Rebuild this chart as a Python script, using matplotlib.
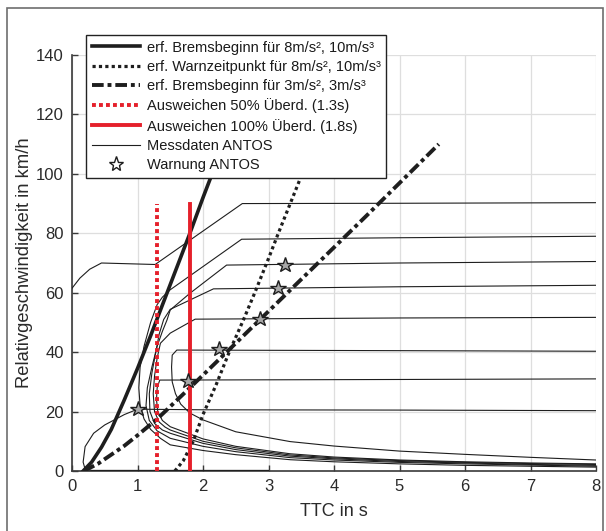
import matplotlib
matplotlib.use("Agg")
import matplotlib.pyplot as plt
from matplotlib.lines import Line2D
from matplotlib.patches import Rectangle

plt.rcParams['font.family'] = ['Liberation Sans', 'DejaVu Sans']

# theoretical curves (TTC [s], v [km/h])
brems8_x = [0.17, 0.3, 0.45, 0.6, 0.8, 1.0, 1.2, 1.4, 1.6, 1.8, 2.0, 2.2]
brems8_y = [0, 3, 8, 14, 24, 34.5, 45.5, 57, 68.5, 80, 92, 103.5]
warn8_x = [1.57, 1.7, 1.85, 2.0, 2.2, 2.4, 2.62, 2.8, 3.0, 3.15, 3.35, 3.55, 3.63]
warn8_y = [0, 3.5, 10, 19, 29, 40, 51, 60.5, 71.5, 80, 91, 102, 105]
brems3_x = [0.18, 0.4, 0.6, 0.8, 1.0, 1.3, 1.8, 2.5, 3.5, 4.5, 5.6]
brems3_y = [0, 2.5, 5.5, 8.5, 12, 17.5, 28, 43, 64.5, 86, 110]
ausw50_x = 1.3
ausw100_x = 1.8
ausw_top = 90

tail_x = [1.5, 2, 2.5, 3.33, 4, 5, 6, 7, 8]

# measured runs (ANTOS)
run90_x = [8, 5, 2.6, 1.27, 1.1, 0.45, 0.27, 0.12, 0]
run90_y = [90.3, 90.1, 90, 69.5, 69.6, 70, 67.9, 64.9, 61.5]

run78_x = [8, 5, 2.59, 1.5, 1.38, 1.3, 1.2, 1.1, 1.04, 1.02, 1.04, 1.1, 1.2, 1.35] + tail_x
run78_y = [79, 78.5, 78, 61, 58.5, 56, 50, 42, 35, 28, 22, 17.5, 14, 11] + [8.8, 6.9, 5.5, 3.8, 3.1, 2.4, 1.9, 1.6, 1.3]

run70_x = [8, 5, 2.36, 1.8, 1.5, 1.45, 1.38, 1.3, 1.22, 1.15, 1.13, 1.18, 1.3] + tail_x
run70_y = [70.5, 70, 69.3, 59.8, 54.2, 50.8, 47, 42, 35, 28, 22, 17, 13.5] + [11.0, 8.3, 6.5, 4.5, 3.7, 2.9, 2.4, 2.0, 1.6]

run62_x = [8, 5, 2.16, 1.5, 1.4, 1.33, 1.28, 1.22, 1.18, 1.19, 1.26, 1.38] + tail_x
run62_y = [62.5, 62, 61.3, 54.4, 51, 46, 40, 33, 26, 20, 16, 13.8] + [12.7, 9.3, 7.2, 5.0, 4.1, 3.2, 2.7, 2.2, 1.9]

run52_x = [8, 5, 1.88, 1.5, 1.35, 1.3, 1.26, 1.24, 1.26, 1.33, 1.42] + tail_x
run52_y = [51.7, 51.5, 51.1, 46.4, 43, 38, 32, 26, 20, 16.5, 14.8] + [13.8, 10.0, 7.8, 5.4, 4.4, 3.5, 2.9, 2.5, 2.2]

run40_x = [8, 5, 1.6, 1.53, 1.52, 1.53, 1.58, 1.66, 1.8, 2.0, 2.5, 3.33, 4, 5, 6, 7, 8]
run40_y = [40.3, 40.5, 40.7, 39, 35, 30, 26, 22.5, 19.5, 17.2, 13.2, 9.9, 8.4, 6.7, 5.6, 4.6, 3.7]

run31_x = [8, 5, 1.34, 1.3, 1.29, 1.31, 1.38] + tail_x
run31_y = [31.0, 30.8, 30.6, 28, 24, 20, 17] + [14.9, 10.8, 8.3, 5.8, 4.7, 3.7, 3.1, 2.7, 2.4]

run20_x = [8, 5, 2, 1.0, 0.8, 0.5, 0.33, 0.2, 0.17, 0.2, 0.3, 3.0]
run20_y = [20.3, 20.5, 20.6, 20.8, 19, 15.5, 12.7, 8.2, 3, 0.6, 0.2, 0.2]

runs = [(run90_x, run90_y), (run78_x, run78_y), (run70_x, run70_y), (run62_x, run62_y),
        (run52_x, run52_y), (run40_x, run40_y), (run31_x, run31_y), (run20_x, run20_y)]

warn_x = [3.25, 3.15, 2.87, 2.25, 1.77, 1.0]
warn_y = [69.4, 61.5, 51.1, 41.0, 30.4, 20.8]

x_ticks = [0, 1, 2, 3, 4, 5, 6, 7, 8]
y_ticks = [0, 20, 40, 60, 80, 100, 120, 140]

red = '#e5202b'
blk = '#1e1e1e'

fig = plt.figure(figsize=(6.06, 5.31), dpi=100)
fig.patches.append(Rectangle((7 / 606, -0.02), 596 / 606, (531 - 8) / 531 + 0.02,
                             transform=fig.transFigure, fill=False,
                             edgecolor='#6e6e6e', lw=1.2, zorder=0))
ax = fig.add_axes([72 / 606, 60 / 531, 524 / 606, 416 / 531])

for rx, ry in runs:
    ax.plot(rx, ry, color=blk, lw=0.8, zorder=3)

ax.plot(brems8_x, brems8_y, color=blk, lw=2.6, zorder=4)
ax.plot(warn8_x, warn8_y, color=blk, lw=2.3, linestyle=(0, (1, 1)), zorder=4)
ax.plot(brems3_x, brems3_y, color=blk, lw=2.8, linestyle=(0, (3, 1, 1, 1)), zorder=4)
ax.plot([ausw50_x, ausw50_x], [0, ausw_top], color=red, lw=2.8, linestyle=(0, (1, 0.8)), zorder=5)
ax.plot([ausw100_x, ausw100_x], [0, ausw_top], color=red, lw=2.8, zorder=5)
ax.plot(warn_x, warn_y, linestyle='none', marker='*', markersize=11.5,
        markerfacecolor='#a8a8a8', markeredgecolor=blk, markeredgewidth=1.0, zorder=6)

ax.set_xlim(0, 8)
ax.set_ylim(0, 140)
ax.set_xticks(x_ticks)
ax.set_yticks(y_ticks)
ax.grid(True, color='#dedede', lw=0.9)
ax.set_axisbelow(True)
for s in ['top', 'right']:
    ax.spines[s].set_visible(False)
for s in ['left', 'bottom']:
    ax.spines[s].set_color('#3a3a3a')
    ax.spines[s].set_linewidth(1.2)
ax.tick_params(direction='in', length=4, width=1, colors='#3a3a3a', labelsize=12,
               labelcolor='#2a2a2a', pad=6)
ax.set_xlabel('TTC in s', fontsize=13, color='#2a2a2a', labelpad=6)
ax.set_ylabel('Relativgeschwindigkeit in km/h', fontsize=13.2, color='#2a2a2a', labelpad=2)

handles = [
    Line2D([], [], color=blk, lw=2.6),
    Line2D([], [], color=blk, lw=2.3, linestyle=(0, (1, 1))),
    Line2D([], [], color=blk, lw=2.8, linestyle=(0, (3, 1, 1, 1))),
    Line2D([], [], color=red, lw=2.8, linestyle=(0, (1, 0.8))),
    Line2D([], [], color=red, lw=2.8),
    Line2D([], [], color=blk, lw=0.8),
    Line2D([], [], linestyle='none', marker='*', markersize=11, markerfacecolor='white',
           markeredgecolor=blk, markeredgewidth=1.0),
]
labels = [
    'erf. Bremsbeginn für 8m/s², 10m/s³',
    'erf. Warnzeitpunkt für 8m/s², 10m/s³',
    'erf. Bremsbeginn für 3m/s², 3m/s³',
    'Ausweichen 50% Überd. (1.3s)',
    'Ausweichen 100% Überd. (1.8s)',
    'Messdaten ANTOS',
    'Warnung ANTOS',
]
leg = ax.legend(handles, labels, loc='upper left', bbox_to_anchor=(86 / 606, 1 - 35 / 531),
                bbox_transform=fig.transFigure, fontsize=10.5, handlelength=3.3,
                handletextpad=0.5, labelspacing=0.36, borderpad=0.38, borderaxespad=0,
                frameon=True, fancybox=False, framealpha=1, edgecolor='#222222')
leg.get_frame().set_linewidth(1.0)
for t in leg.get_texts():
    t.set_color('#1a1a1a')

fig.savefig('out.png', dpi=100)
